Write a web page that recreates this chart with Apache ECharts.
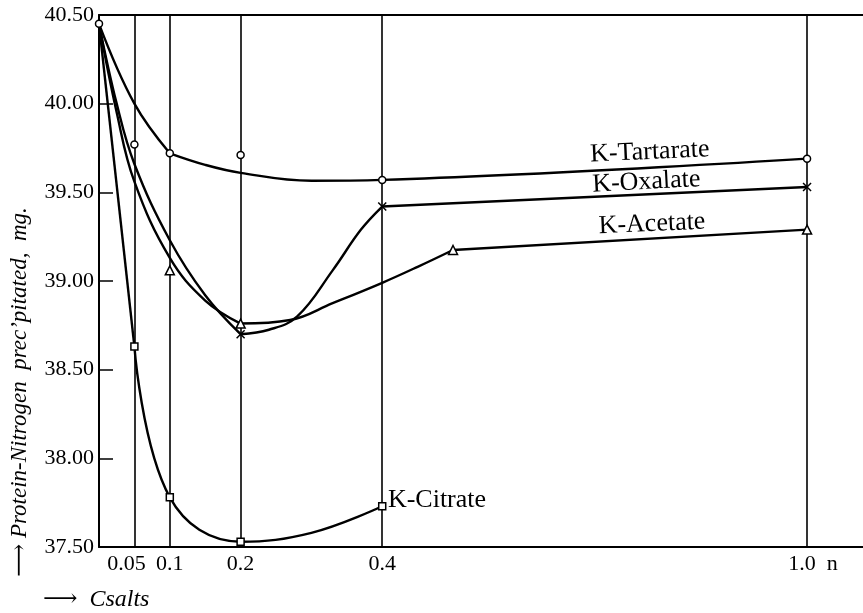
<!DOCTYPE html>
<html>
<head>
<meta charset="utf-8">
<script src="https://cdn.jsdelivr.net/npm/echarts@6/dist/echarts.min.js"></script>
<style>
html,body{margin:0;padding:0;background:#fff;}
#chart{width:863px;height:613px;}
</style>
</head>
<body>
<div id="chart"></div>
<script>
// ---- data ----
const xTicks = [0.05, 0.1, 0.2, 0.4, 1.0];
const yTicks = [37.5, 38.0, 38.5, 39.0, 39.5, 40.0, 40.5];

// each curve is drawn as smooth pieces that meet at corners (marked points)
const tartarateCurve = [
  [[0,40.45],[0.05,40.0],[0.1,39.72]],
  [[0.1,39.72],[0.15,39.655],[0.2,39.61],[0.3,39.565],[0.4,39.57],[1.0,39.69]]
];
const tartaratePoints = [[0,40.45],[0.05,39.77],[0.1,39.72],[0.2,39.71],[0.4,39.57],[1.0,39.69]];

const oxalateCurve = [
  [[0,40.45],[0.025,40.0],[0.05,39.66],[0.1,39.23],[0.15,38.92],[0.2,38.70]],
  [[0.2,38.70],[0.24,38.725],[0.28,38.80],[0.33,39.06],[0.37,39.29],[0.4,39.42]],
  [[0.4,39.42],[1.0,39.53]]
];
const oxalatePoints = [[0.2,38.70],[0.4,39.42],[1.0,39.53]];

const acetateCurve = [
  [[0,40.45],[0.025,39.95],[0.05,39.56],[0.1,39.13],[0.15,38.89],[0.2,38.76]],
  [[0.2,38.76],[0.27,38.78],[0.33,38.875],[0.4,38.99],[0.45,39.08],[0.5,39.175]],
  [[0.5,39.175],[1.0,39.29]]
];
const acetatePoints = [[0.1,39.06],[0.2,38.76],[0.5,39.175],[1.0,39.29]];

const citrateCurve = [
  [[0,40.45],[0.05,38.63]],
  [[0.05,38.63],[0.1,37.78],[0.2,37.53],[0.3,37.58],[0.4,37.73]]
];
const citratePoints = [[0.05,38.63],[0.1,37.78],[0.2,37.53],[0.4,37.73]];

const seriesNames = ['K-Tartarate','K-Oxalate','K-Acetate','K-Citrate'];
// ----------------------------------------

const SERIF = "'Liberation Serif','DejaVu Serif',serif";
const chart = echarts.init(document.getElementById('chart'), null, {renderer:'canvas'});

function curves(name, segs, extra) {
  return segs.map(function (seg, i) {
    return Object.assign({
      name: name, type: 'line', data: seg, smooth: 0.4, showSymbol: false, silent: true,
      lineStyle: {color: '#000', width: 2.4}, z: 3
    }, i === 0 ? (extra || {}) : {});
  });
}
function markers(name, data, symbol, size) {
  return {
    name: name + ' pts', type: 'scatter', data: data, symbol: symbol, symbolSize: size, silent: true,
    itemStyle: {color: '#fff', borderColor: '#000', borderWidth: 1.5, opacity: 1}, z: 5
  };
}
function nameLabel(text, coord, rot, align) {
  return {
    symbol: 'circle', symbolSize: 1, silent: true,
    itemStyle: {color: 'rgba(0,0,0,0)'},
    data: [{coord: coord, value: text}],
    label: {show: true, formatter: text, position: 'inside', rotate: rot || 0, align: align || 'center',
            fontFamily: SERIF, fontSize: 26, color: '#000'}
  };
}

const option = {
  animation: false,
  backgroundColor: '#fff',
  grid: {left: 99, right: 0, top: 15, bottom: 66, containLabel: false},
  xAxis: [{
    type: 'value', min: 0, max: 1.079, position: 'bottom',
    axisLine: {show: true, lineStyle: {color: '#000', width: 2}},
    axisTick: {show: false}, splitLine: {show: false},
    axisLabel: {
      customValues: xTicks, margin: 6, color: '#000', fontFamily: SERIF, fontSize: 22,
      formatter: function (v) {
        if (Math.abs(v - 0.05) < 1e-6) return '{l|0.05}';
        if (Math.abs(v - 1.0) < 1e-6) return '{r|1.0  n}';
        return String(v);
      },
      rich: {
        l: {fontFamily: SERIF, fontSize: 22, color: '#000', padding: [0, 16, 0, 0]},
        r: {fontFamily: SERIF, fontSize: 22, color: '#000', padding: [0, 0, 0, 12]}
      }
    }
  }, {
    type: 'value', min: 0, max: 1.079, position: 'top',
    axisLine: {show: true, lineStyle: {color: '#000', width: 2}},
    axisTick: {show: false}, axisLabel: {show: false}, splitLine: {show: false}
  }],
  yAxis: {
    type: 'value', min: yTicks[0], max: yTicks[yTicks.length - 1], interval: 0.5,
    axisLine: {show: true, lineStyle: {color: '#000', width: 2}},
    axisTick: {show: true, inside: true, length: 14, lineStyle: {color: '#000', width: 1.5}},
    splitLine: {show: false},
    axisLabel: {margin: 5, color: '#000', fontFamily: SERIF, fontSize: 22,
      formatter: function (v) { return v.toFixed(2); }}
  },
  graphic: [
    {type: 'text', x: 20, y: 392, rotation: Math.PI / 2,
     style: {text: '\u27F6 Protein-Nitrogen  prec\u2019pitated,  mg.', font: "italic 23px 'Liberation Serif','DejaVu Serif',serif",
             fill: '#000', textAlign: 'center', textVerticalAlign: 'middle'}},
    {type: 'text', x: 43, y: 600,
     style: {text: '\u27F6  Csalts', font: "italic 24px 'Liberation Serif','DejaVu Serif',serif",
             fill: '#000', textAlign: 'left', textVerticalAlign: 'middle'}}
  ],
  series: [].concat(
    curves(seriesNames[3], citrateCurve, {
      markLine: {
        silent: true, symbol: ['none', 'none'], label: {show: false},
        lineStyle: {color: '#000', width: 1.6, type: 'solid'},
        data: xTicks.map(function (v) { return {xAxis: v}; })
      },
      markPoint: nameLabel(seriesNames[3], [0.408, 37.765], 0, 'left')
    }),
    curves(seriesNames[0], tartarateCurve, {markPoint: nameLabel(seriesNames[0], [0.778, 39.727], 2.5)}),
    curves(seriesNames[1], oxalateCurve, {markPoint: nameLabel(seriesNames[1], [0.773, 39.558], 3)}),
    curves(seriesNames[2], acetateCurve, {markPoint: nameLabel(seriesNames[2], [0.781, 39.321], 2.5)}),
    [
      markers(seriesNames[0], tartaratePoints, 'circle', 7),
      markers(seriesNames[1], oxalatePoints, 'path://M0,0L10,10M10,0L0,10', 8),
      markers(seriesNames[2], acetatePoints, 'triangle', 9),
      markers(seriesNames[3], citratePoints, 'rect', 7)
    ]
  )
};
chart.setOption(option);
</script>
</body>
</html>
